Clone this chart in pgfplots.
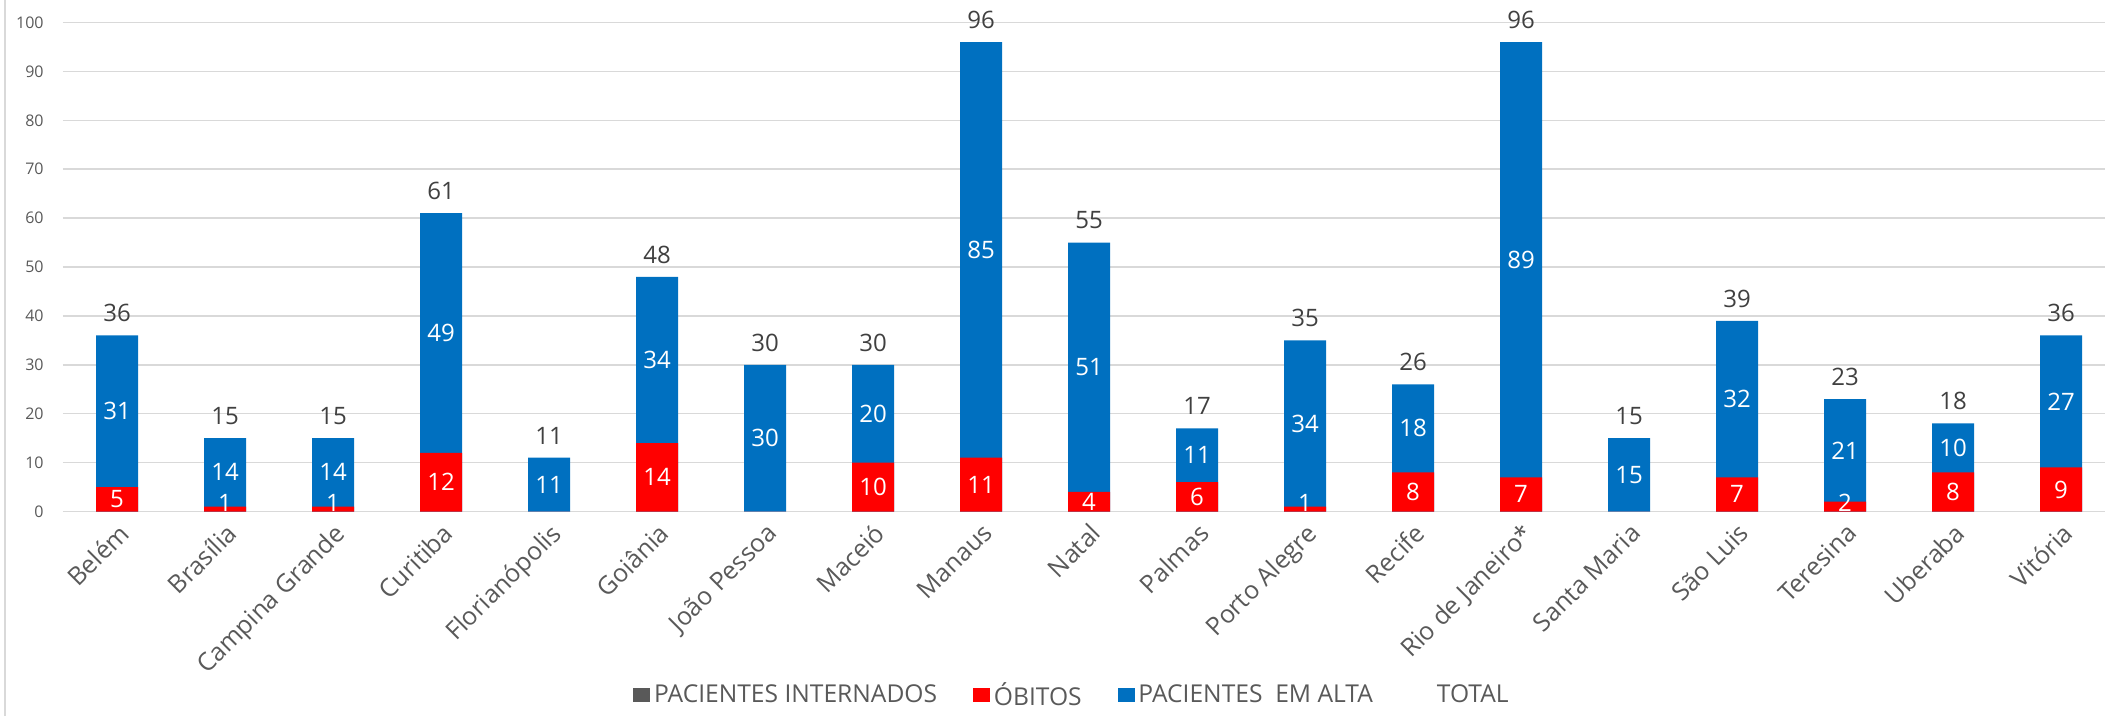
\documentclass[border=0pt]{standalone}
\usepackage{fontspec}
\setmainfont{Open Sans}
\usepackage{pgfplots}
\usepackage{pgfplotstable}
\pgfplotsset{compat=1.18}
\definecolor{myblue}{HTML}{0070C0}
\definecolor{myred}{HTML}{FF0000}
\definecolor{lgray}{HTML}{595959}
\definecolor{tgray}{HTML}{404040}
\definecolor{gridc}{HTML}{D9D9D9}

\pgfplotstableread{
x obitos alta
0 5 31
1 1 14
2 1 14
3 12 49
4 0 11
5 14 34
6 0 30
7 10 20
8 11 85
9 4 51
10 6 11
11 1 34
12 8 18
13 7 89
14 0 15
15 7 32
16 2 21
17 8 10
18 9 27
}\datatable

\begin{document}
\begin{tikzpicture}
\begin{axis}[
  name=ax,
  width=1021pt, height=244.5pt, scale only axis,
  xmin=-0.5, xmax=18.407, ymin=0, ymax=100,
  xtick={0,...,18},
  xticklabels={Belém, Brasília, Campina Grande, Curitiba, Florianópolis, Goiânia, João Pessoa, Maceió, Manaus, Natal, Palmas, Porto Alegre, Recife, Rio de Janeiro*, Santa Maria, São Luis, Teresina, Uberaba, Vitória},
  ytick={0,10,...,100},
  ymajorgrids, grid style={gridc, line width=0.75pt},
  axis line style={draw=none},
  major tick length=0pt,
  /pgf/number format/assume math mode=true,
  yticklabel style={font=\fontsize{8}{9}\selectfont, text=lgray, anchor=east, inner sep=0pt, xshift=-9.5pt},
  xticklabel style={font=\fontsize{12.5}{13}\selectfont, text=lgray, yshift=-5pt, rotate=45, anchor=north east, inner sep=0pt},
  legend columns=4,
  legend cell align=left,
  legend style={draw=none, fill=none, at={(0.4946,-0.376)}, anchor=center, font=\fontsize{12.3}{13}\selectfont, text=lgray, /tikz/every even column/.append style={column sep=16pt}},
]
\addplot[ybar, bar width=21pt, bar shift=0pt, fill=myblue, draw=none, forget plot]
  table[x=x, y expr=\thisrow{obitos}+\thisrow{alta}] {\datatable};
\addplot[ybar, bar width=21pt, bar shift=0pt, fill=myred, draw=none, forget plot]
  table[x=x, y=obitos] {\datatable};
% red labels
\addplot[draw=none, mark=none, forget plot, nodes near coords, point meta=explicit,
  restrict expr to domain={\thisrow{obitos}}{0.5:1000},
  every node near coord/.style={anchor=center, text=white, font=\fontsize{12}{12}\selectfont, inner sep=0pt}]
  table[x=x, y expr={max(\thisrow{obitos}/2,1.7)}, meta=obitos] {\datatable};
% blue labels
\addplot[draw=none, mark=none, forget plot, nodes near coords, point meta=explicit,
  every node near coord/.style={anchor=center, text=white, font=\fontsize{12}{12}\selectfont, inner sep=0pt}]
  table[x=x, y expr={\thisrow{obitos}+\thisrow{alta}/2}, meta=alta] {\datatable};
% totals
\addplot[draw=none, mark=none, forget plot, nodes near coords, point meta={\thisrow{obitos}+\thisrow{alta}},
  every node near coord/.style={anchor=south, text=tgray, font=\fontsize{12}{12}\selectfont, inner sep=0pt, yshift=6.5pt}]
  table[x=x, y expr={\thisrow{obitos}+\thisrow{alta}}] {\datatable};

\addlegendimage{legend image code/.code={\fill[lgray] (0pt,-3.25pt) rectangle (8pt,3.25pt);}}
\addlegendentry{PACIENTES INTERNADOS}
\addlegendimage{legend image code/.code={\fill[myred] (0pt,-3.25pt) rectangle (8pt,3.25pt);}}
\addlegendentry{ÓBITOS}
\addlegendimage{legend image code/.code={\fill[myblue] (0pt,-3.25pt) rectangle (8pt,3.25pt);}}
\addlegendentry{PACIENTES\ \ EM ALTA}
\addlegendimage{legend image code/.code={\path[draw=none] (0pt,0pt) -- (12pt,0pt);}}
\addlegendentry{TOTAL}
\end{axis}
\draw[gridc, line width=0.75pt] ([xshift=-29pt,yshift=-102.25pt]ax.south west) -- ([xshift=-29pt,yshift=11.25pt]ax.north west);
\pgfresetboundingbox
\path[use as bounding box] ([xshift=-31.5pt,yshift=-102.25pt]ax.south west) rectangle ([yshift=11.25pt]ax.north east);
\end{tikzpicture}
\end{document}
